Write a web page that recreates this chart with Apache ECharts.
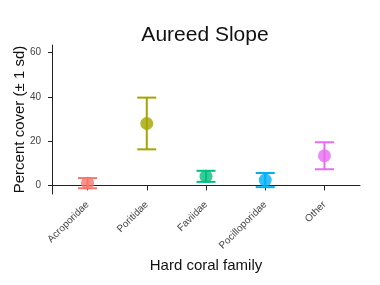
<!DOCTYPE html>
<html>
<head>
<meta charset="utf-8">
<script src="https://cdn.jsdelivr.net/npm/echarts@6/dist/echarts.min.js"></script>
<style>
  html, body { margin: 0; padding: 0; background: #fff; }
  #chart { width: 380px; height: 285px; }
</style>
</head>
<body>
<div id="chart"></div>
<script>
const families = ['Acroporidae', 'Poritidae', 'Faviidae', 'Pocilloporidae', 'Other']
const meanCover = [1.0, 28.0, 4.1, 2.4, 13.4]
const sdCover = [2.3, 11.7, 2.5, 3.2, 6.1]
const colors = ['#F8766D', '#A3A500', '#00BF7D', '#00B0F6', '#E76BF3']
const yTicks = [0, 20, 40, 60]
const xTicks = [1, 2, 3, 4, 5]

const chart = echarts.init(document.getElementById('chart'))

const errData = families.map((f, i) => [i + 1, meanCover[i] - sdCover[i], meanCover[i] + sdCover[i]])
const ptData = families.map((f, i) => ({
  value: [i + 1, meanCover[i]],
  itemStyle: { color: colors[i] }
}))

const option = {
  animation: false,
  textStyle: { fontFamily: 'Liberation Sans, Arial, sans-serif' },
  title: {
    text: 'Aureed Slope',
    left: 200,
    textAlign: 'center',
    top: 20,
    textStyle: { fontSize: 21, fontWeight: 'normal', color: '#111' }
  },
  grid: { left: 52, right: 20, top: 45, bottom: 91, outerBoundsMode: 'none', containLabel: false },
  xAxis: {
    type: 'value',
    min: 0.4,
    max: 5.6,
    name: 'Hard coral family',
    nameLocation: 'middle',
    nameGap: 63,
    nameTextStyle: { fontSize: 15, color: '#111' },
    axisLine: { show: true, lineStyle: { color: '#222', width: 1 } },
    axisTick: { show: true, customValues: xTicks, length: 5, lineStyle: { color: '#222' } },
    axisLabel: {
      customValues: xTicks,
      rotate: 45,
      margin: 9,
      fontSize: 10,
      color: '#444',
      formatter: v => families[Math.round(v) - 1] || ''
    },
    splitLine: { show: false }
  },
  yAxis: {
    type: 'value',
    min: -3.9,
    max: 63.5,
    name: 'Percent cover (± 1 sd)',
    nameLocation: 'middle',
    nameGap: 25,
    nameMoveOverlap: false,
    nameTextStyle: { fontSize: 15, color: '#111' },
    axisLine: { show: true, lineStyle: { color: '#222', width: 1 } },
    axisTick: { show: true, customValues: yTicks, length: 4, lineStyle: { color: '#222' } },
    axisLabel: { customValues: yTicks, margin: 11, fontSize: 10, color: '#444' },
    splitLine: { show: false }
  },
  series: [{
    type: 'custom',
    data: errData,
    renderItem: (params, api) => {
      const x = api.value(0)
      const lo = api.coord([x, api.value(1)])
      const hi = api.coord([x, api.value(2)])
      const half = 9.5
      const style = { stroke: colors[params.dataIndex], lineWidth: 2, fill: null }
      return {
        type: 'group',
        children: [
          { type: 'line', shape: { x1: lo[0], y1: lo[1], x2: hi[0], y2: hi[1] }, style },
          { type: 'line', shape: { x1: lo[0] - half, y1: lo[1], x2: lo[0] + half, y2: lo[1] }, style },
          { type: 'line', shape: { x1: hi[0] - half, y1: hi[1], x2: hi[0] + half, y2: hi[1] }, style }
        ]
      }
    },
    z: 1
  }, {
    type: 'scatter',
    data: ptData,
    symbol: 'circle',
    symbolSize: 13,
    z: 2
  }]
}

chart.setOption(option)
</script>
</body>
</html>
